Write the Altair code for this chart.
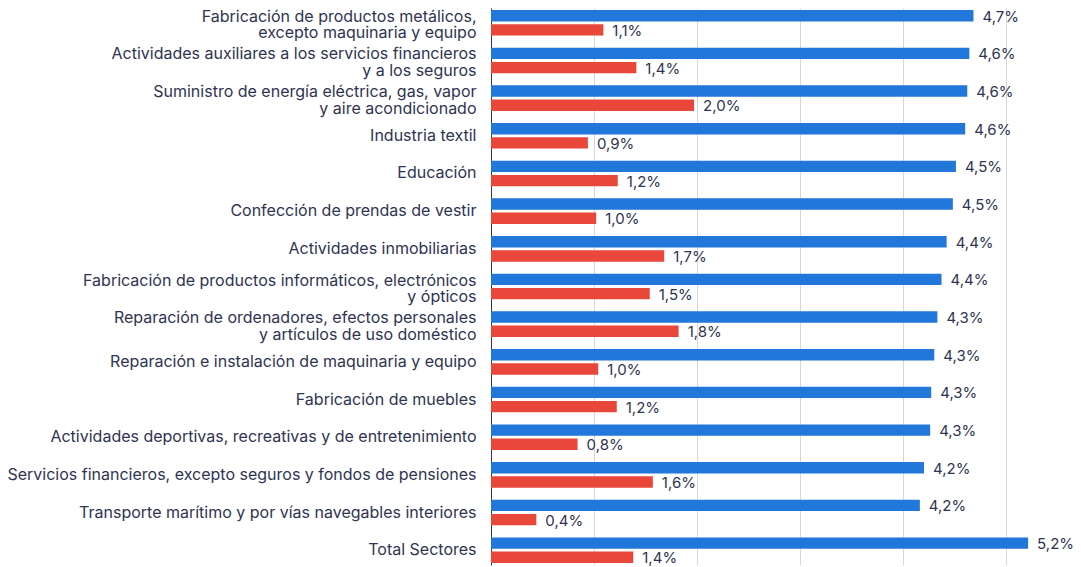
import altair as alt
import pandas as pd

categorias = [
    "Fabricación de productos metálicos,\nexcepto maquinaria y equipo",
    "Actividades auxiliares a los servicios financieros\ny a los seguros",
    "Suministro de energía eléctrica, gas, vapor\ny aire acondicionado",
    "Industria textil",
    "Educación",
    "Confección de prendas de vestir",
    "Actividades inmobiliarias",
    "Fabricación de productos informáticos, electrónicos\ny ópticos",
    "Reparación de ordenadores, efectos personales\ny artículos de uso doméstico",
    "Reparación e instalación de maquinaria y equipo",
    "Fabricación de muebles",
    "Actividades deportivas, recreativas y de entretenimiento",
    "Servicios financieros, excepto seguros y fondos de pensiones",
    "Transporte marítimo y por vías navegables interiores",
    "Total Sectores",
]
serie_azul = [4.68, 4.64, 4.62, 4.60, 4.51, 4.48, 4.42, 4.37, 4.33, 4.30, 4.27, 4.26, 4.20, 4.16, 5.21]
serie_roja = [1.09, 1.41, 1.97, 0.94, 1.23, 1.02, 1.68, 1.54, 1.82, 1.04, 1.22, 0.84, 1.57, 0.44, 1.38]
series = ["Serie A", "Serie B"]
colores = ["#2277da", "#e8473a"]

filas = []
for cat, a, r in zip(categorias, serie_azul, serie_roja):
    for s, v in zip(series, [a, r]):
        filas.append({
            "categoria": cat,
            "serie": s,
            "valor": v,
            "etiqueta": f"{v:.1f}".replace(".", ",") + "%",
        })
df = pd.DataFrame(filas)

texto = "#2e3452"

base = alt.Chart(df).encode(
    y=alt.Y(
        "categoria:N",
        sort=categorias,
        scale=alt.Scale(paddingInner=0.32, paddingOuter=0.053),
        axis=alt.Axis(
            title=None,
            labelExpr="split(datum.label, '\\n')",
            labelFont="Inter",
            labelFontSize=16,
            labelColor=texto,
            labelLimit=560,
            labelPadding=15,
            labelLineHeight=16.5,
            labelOffset=alt.condition("indexof(datum.value, '\\n') >= 0",
                                      alt.value(-6), alt.value(0)),
            ticks=False,
            tickSize=0,
            domainColor=texto,
            domainWidth=1,
            grid=False,
        ),
    ),
    yOffset=alt.YOffset("serie:N", sort=series,
                        scale=alt.Scale(paddingInner=0.2, paddingOuter=0)),
)

barras = base.mark_bar().encode(
    x=alt.X(
        "valor:Q",
        scale=alt.Scale(domain=[0, 5.5], nice=False),
        axis=alt.Axis(title=None, labels=False, ticks=False, domain=False,
                      grid=True, values=[0, 1, 2, 3, 4, 5],
                      gridColor="#d4d7e0", gridWidth=1),
    ),
    color=alt.Color("serie:N", scale=alt.Scale(domain=series, range=colores),
                    legend=None),
)

etiquetas = base.mark_text(
    align="left", baseline="middle", dx=9, dy=1,
    font="Inter", fontSize=15, color=texto,
).encode(
    x="valor:Q",
    text="etiqueta:N",
)

chart = alt.layer(barras, etiquetas).properties(
    width=567,
    height=557,
    autosize=alt.AutoSizeParams(type="none"),
    padding={"left": 483, "top": 0, "right": 15, "bottom": 4},
).configure_view(stroke=None)

chart.save("out.html", embed_options={"renderer": "svg", "actions": False})
